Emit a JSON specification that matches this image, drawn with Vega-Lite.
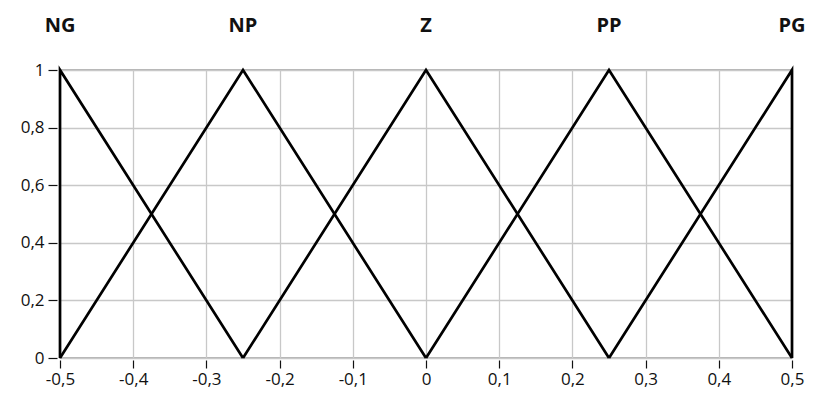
{
  "$schema": "https://vega.github.io/schema/vega-lite/v6.json",
  "autosize": "none",
  "width": 732,
  "height": 288,
  "padding": {"left": 60, "top": 70, "right": 22, "bottom": 41},
  "background": "white",
  "datasets": {
    "membership": [
      {"term": "NG", "seq": 1, "x": -0.5, "mu": 0},
      {"term": "NG", "seq": 2, "x": -0.5, "mu": 1},
      {"term": "NG", "seq": 3, "x": -0.25, "mu": 0},
      {"term": "NP", "seq": 1, "x": -0.5, "mu": 0},
      {"term": "NP", "seq": 2, "x": -0.25, "mu": 1},
      {"term": "NP", "seq": 3, "x": 0, "mu": 0},
      {"term": "Z", "seq": 1, "x": -0.25, "mu": 0},
      {"term": "Z", "seq": 2, "x": 0, "mu": 1},
      {"term": "Z", "seq": 3, "x": 0.25, "mu": 0},
      {"term": "PP", "seq": 1, "x": 0, "mu": 0},
      {"term": "PP", "seq": 2, "x": 0.25, "mu": 1},
      {"term": "PP", "seq": 3, "x": 0.5, "mu": 0},
      {"term": "PG", "seq": 1, "x": 0.25, "mu": 0},
      {"term": "PG", "seq": 2, "x": 0.5, "mu": 1},
      {"term": "PG", "seq": 3, "x": 0.5, "mu": 0}
    ],
    "peaks": [
      {"term": "NG", "x": -0.5, "mu": 1},
      {"term": "NP", "x": -0.25, "mu": 1},
      {"term": "Z", "x": 0, "mu": 1},
      {"term": "PP", "x": 0.25, "mu": 1},
      {"term": "PG", "x": 0.5, "mu": 1}
    ]
  },
  "layer": [
    {
      "data": {"name": "membership"},
      "mark": {"type": "line", "color": "black", "strokeWidth": 2.7, "clip": false},
      "encoding": {
        "x": {
          "field": "x",
          "type": "quantitative",
          "scale": {"domain": [-0.5, 0.5], "nice": false, "zero": false},
          "axis": {
            "title": null,
            "values": [-0.5, -0.4, -0.3, -0.2, -0.1, 0, 0.1, 0.2, 0.3, 0.4, 0.5],
            "format": ".1~f",
            "domain": false,
            "offset": 2,
            "tickSize": 8,
            "labelPadding": 3,
            "labelFlush": false
          }
        },
        "y": {
          "field": "mu",
          "type": "quantitative",
          "scale": {"domain": [0, 1], "nice": false},
          "axis": {
            "title": null,
            "values": [0, 0.2, 0.4, 0.6, 0.8, 1],
            "format": ".1~f",
            "domain": false,
            "offset": 3,
            "tickSize": 9,
            "labelPadding": 4,
            "labelFlush": false
          }
        },
        "detail": {"field": "term"},
        "order": {"field": "seq"}
      }
    },
    {
      "data": {"name": "peaks"},
      "mark": {
        "type": "text",
        "font": "Open Sans",
        "fontSize": 20,
        "fontWeight": "bold",
        "color": "#111111",
        "baseline": "alphabetic",
        "align": "center",
        "dy": -38
      },
      "encoding": {
        "x": {"field": "x", "type": "quantitative"},
        "y": {"field": "mu", "type": "quantitative"},
        "text": {"field": "term"}
      }
    }
  ],
  "config": {
    "locale": {
      "number": {
        "decimal": ",",
        "thousands": ".",
        "grouping": [3],
        "currency": ["", ""],
        "minus": "-"
      }
    },
    "view": {"stroke": "#9a9a9a", "strokeWidth": 1.5},
    "axis": {
      "grid": true,
      "gridColor": "#c8c8c8",
      "gridWidth": 1.3,
      "tickColor": "#111111",
      "tickWidth": 1.2,
      "labelFont": "Open Sans",
      "labelFontSize": 17,
      "labelColor": "#111111"
    }
  }
}
